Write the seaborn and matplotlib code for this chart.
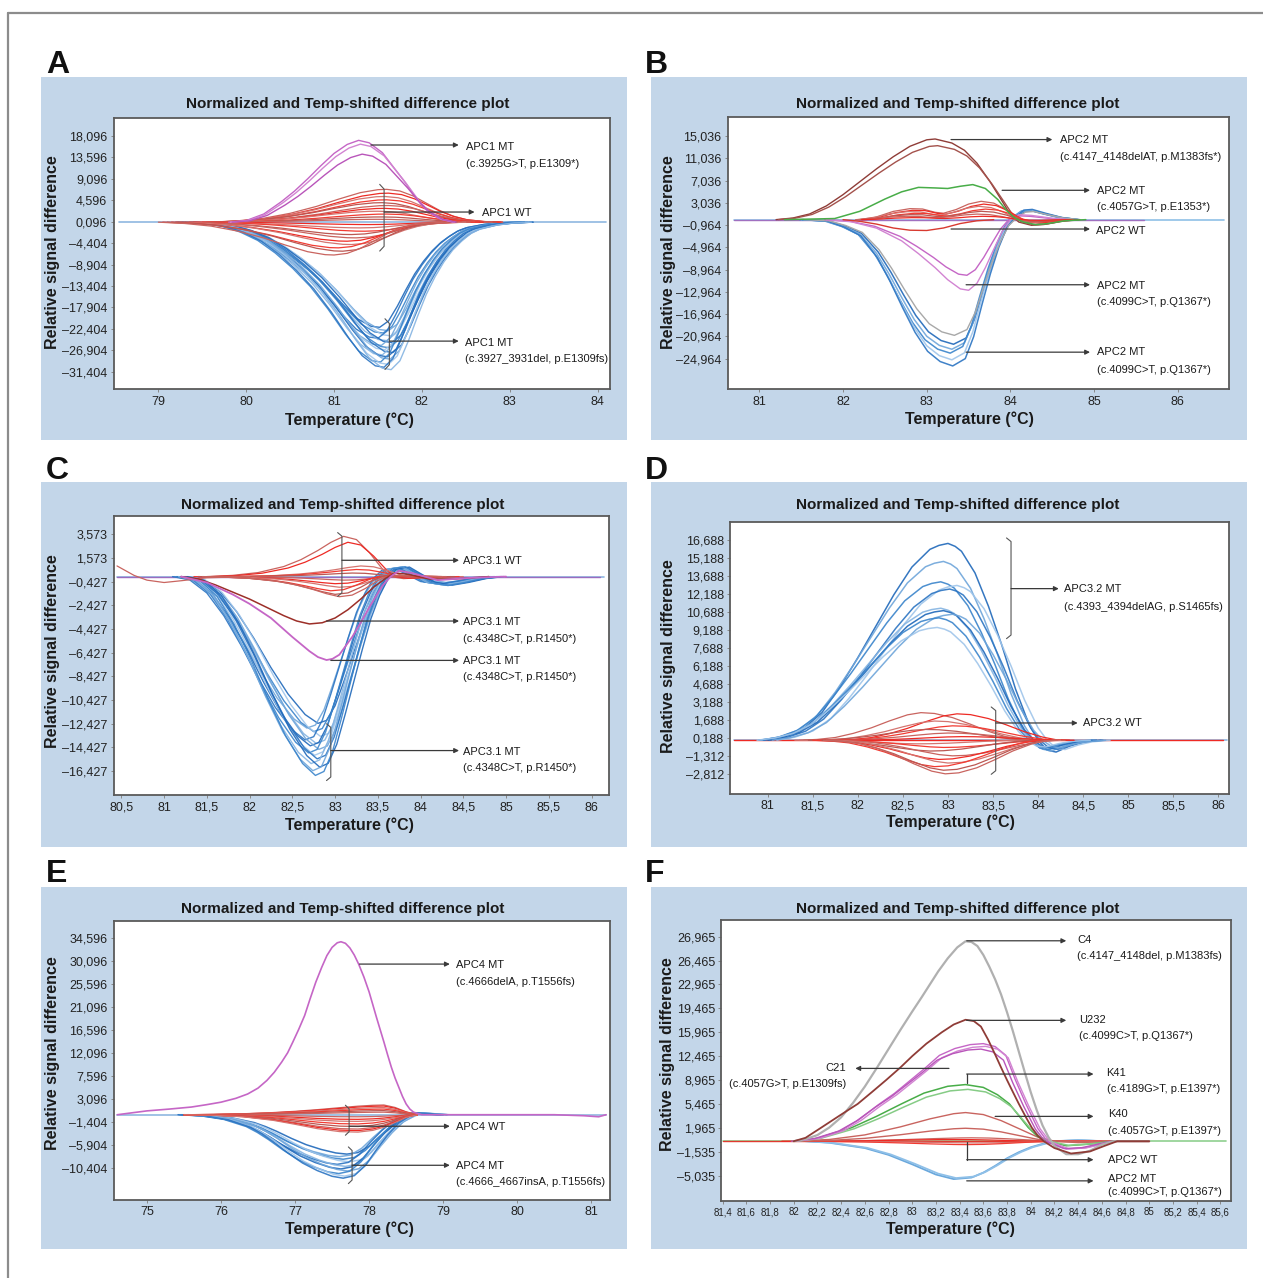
import numpy as np
import pandas as pd
import matplotlib
matplotlib.use("Agg")
import matplotlib.pyplot as plt
import seaborn as sns
from matplotlib.patches import Rectangle
from matplotlib.lines import Line2D

sns.set_theme(style="white")
plt.rcParams['font.family'] = ['Liberation Sans', 'DejaVu Sans']

# ======================= DATA =======================
TITLE = "Normalized and Temp-shifted difference plot"
YLABEL = "Relative signal difference"
XLABEL = "Temperature (°C)"

# ---------------- Panel A ----------------
A_xticks = [79, 80, 81, 82, 83, 84]
A_xticklabels = ["79", "80", "81", "82", "83", "84"]
A_yticks = [18096, 13596, 9096, 4596, 96, -4404, -8904, -13404, -17904, -22404, -26904, -31404]
A_yticklabels = ["18,096", "13,596", "9,096", "4,596", "0,096", "–4,404", "–8,904", "–13,404",
                 "–17,904", "–22,404", "–26,904", "–31,404"]
A_base_x = [78.55, 84.1]
A_blue_x = [79.3, 79.6, 79.8, 80.0, 80.2, 80.4, 80.6, 80.8, 81.0, 81.2, 81.35, 81.5, 81.6, 81.7,
            81.8, 81.9, 82.0, 82.1, 82.2, 82.3, 82.4, 82.5, 82.6, 82.8, 83.0, 83.2]
A_blue_shape = [0, -0.01, -0.03, -0.07, -0.13, -0.22, -0.33, -0.46, -0.62, -0.80, -0.92, -0.99, -1.0,
                -0.94, -0.80, -0.64, -0.49, -0.37, -0.27, -0.19, -0.13, -0.08, -0.05, -0.02, -0.005, 0]
A_blue_amp = [22100, 22800, 23300, 23900, 24400, 24900, 25300, 25900, 26400, 26800, 27400, 27900,
              28300, 28800, 29400, 29900, 30500, 31000]
A_blue_shift = [-0.08, 0.02, -0.04, 0.05, -0.10, 0.0, 0.06, -0.06, 0.03, -0.02, 0.07, -0.05, 0.01,
                0.04, -0.07, 0.02, -0.03, 0.05]
A_mag_x = [79.8, 80.0, 80.2, 80.4, 80.55, 80.7, 80.85, 81.0, 81.15, 81.28, 81.4, 81.55, 81.7, 81.8,
           81.95, 82.05, 82.2, 82.35]
A_mag_shape = [0, 0.02, 0.10, 0.25, 0.38, 0.53, 0.69, 0.84, 0.95, 1.0, 0.97, 0.85, 0.64, 0.50, 0.27,
               0.15, 0.04, 0]
A_mag_amp = [17200, 16400, 14300]
A_mag_shift = [0.0, 0.02, 0.04]
A_red_x = [79.5, 79.8, 80.1, 80.4, 80.7, 80.95, 81.2, 81.4, 81.5, 81.65, 81.8, 81.95, 82.1, 82.25,
           82.4, 82.6, 82.8]
A_red_shape = [0, 0.04, 0.12, 0.27, 0.48, 0.70, 0.90, 0.99, 1.0, 0.95, 0.80, 0.58, 0.36, 0.19, 0.08,
               0.02, 0]
A_red_amp = [6900, 6100, 5400, 4700, 4100, 3500, 2900, 2300, 1700, 1100, 600, -500, -1200, -1900,
             -2600, -3300, -4000, -4700, -5400, -6100, -6900]
A_red_shift = [0.1, 0.12, 0.08, 0.1, 0.05, 0.12, 0.08, 0.0, 0.1, 0.05, 0.0, -0.1, -0.2, -0.15, -0.3,
               -0.25, -0.35, -0.3, -0.45, -0.4, -0.5]

# ---------------- Panel B ----------------
B_xticks = [81, 82, 83, 84, 85, 86]
B_xticklabels = ["81", "82", "83", "84", "85", "86"]
B_yticks = [15036, 11036, 7036, 3036, -964, -4964, -8964, -12964, -16964, -20964, -24964]
B_yticklabels = ["15,036", "11,036", "7,036", "3,036", "–0,964", "–4,964", "–8,964", "–12,964",
                 "–16,964", "–20,964", "–24,964"]
B_base_x = [80.7, 86.55]
B_blue_x = [81.5, 81.8, 82.0, 82.2, 82.4, 82.55, 82.7, 82.85, 83.0, 83.15, 83.3, 83.45, 83.55, 83.65,
            83.75, 83.85, 83.95, 84.05, 84.15, 84.25, 84.4, 84.6, 84.8]
B_blue_shape = [0, -0.01, -0.05, -0.11, -0.26, -0.42, -0.60, -0.77, -0.90, -0.97, -1.0, -0.95, -0.80,
                -0.58, -0.37, -0.19, -0.05, 0.02, 0.065, 0.07, 0.045, 0.015, 0]
B_blue_amp = [22400, 23300, 24000, 25200, 26300]
B_blue_shift = [0.02, 0.0, -0.02, 0.0, 0.01]
B_gray_amp = [20800]
B_gray_shift = [0.03]
B_mag_x = [81.8, 82.1, 82.4, 82.7, 82.9, 83.1, 83.25, 83.4, 83.5, 83.6, 83.7, 83.8, 83.9, 84.0, 84.1,
           84.25, 84.5, 84.7]
B_mag_shape = [0, -0.03, -0.12, -0.30, -0.48, -0.68, -0.85, -0.98, -1.0, -0.90, -0.68, -0.42, -0.17,
               0, 0.07, 0.06, 0.02, 0]
B_mag_amp = [10000, 12700]
B_mag_shift = [-0.02, 0.0]
B_brown_x = [81.2, 81.4, 81.6, 81.8, 82.0, 82.2, 82.4, 82.6, 82.8, 83.0, 83.1, 83.3, 83.45, 83.6,
             83.75, 83.9, 84.0, 84.1, 84.25, 84.4, 84.6, 84.8]
B_brown_shape = [0, 0.02, 0.07, 0.17, 0.31, 0.47, 0.63, 0.78, 0.91, 0.99, 1.0, 0.95, 0.86, 0.70, 0.48,
                 0.23, 0.06, -0.03, -0.07, -0.06, -0.02, 0]
B_brown_amp = [14500, 13300]
B_brown_shift = [0.0, 0.03]
B_green_x = [81.3, 81.9, 82.2, 82.5, 82.7, 82.9, 83.1, 83.25, 83.4, 83.55, 83.7, 83.85, 83.95, 84.05,
             84.15, 84.3, 84.45, 84.65, 84.9]
B_green_y = [0, 200, 1500, 3700, 5000, 5800, 5700, 5600, 6000, 6300, 5600, 3600, 1700, 300, -400,
             -900, -700, -200, 0]
B_red_x = [82.2, 82.4, 82.6, 82.8, 82.95, 83.1, 83.2, 83.35, 83.5, 83.65, 83.8, 83.95, 84.1, 84.2,
           84.35, 84.5, 84.7]
B_red_shape = [0, 0.15, 0.45, 0.60, 0.58, 0.40, 0.35, 0.55, 0.85, 1.0, 0.90, 0.55, 0.05, -0.15, -0.20,
               -0.10, 0]
B_red_amp = [3300, 2800, 2400, 1900, 1500, 1000, 600]
B_red_shift = [0.0, 0.03, -0.03, 0.05, 0.0, -0.05, 0.02]
B_redneg_x = [82.0, 82.2, 82.4, 82.6, 82.8, 83.0, 83.2, 83.4, 83.6, 83.8]
B_redneg_y = [0, -300, -800, -1500, -1900, -1950, -1500, -700, -200, 0]

# ---------------- Panel C ----------------
C_xticks = [80.5, 81, 81.5, 82, 82.5, 83, 83.5, 84, 84.5, 85, 85.5, 86]
C_xticklabels = ["80,5", "81", "81,5", "82", "82,5", "83", "83,5", "84", "84,5", "85", "85,5", "86"]
C_yticks = [3573, 1573, -427, -2427, -4427, -6427, -8427, -10427, -12427, -14427, -16427]
C_yticklabels = ["3,573", "1,573", "–0,427", "–2,427", "–4,427", "–6,427", "–8,427", "–10,427",
                 "–12,427", "–14,427", "–16,427"]
C_base_x = [80.45, 86.15]
C_blue_x = [81.2, 81.4, 81.6, 81.8, 82.0, 82.2, 82.4, 82.6, 82.75, 82.85, 82.95, 83.05, 83.15, 83.25,
            83.35, 83.45, 83.55, 83.65, 83.8, 83.95, 84.1, 84.3, 84.5, 84.7, 84.9]
C_blue_shape = [0, -0.02, -0.10, -0.24, -0.42, -0.62, -0.80, -0.94, -1.0, -0.98, -0.88, -0.72, -0.55,
                -0.38, -0.22, -0.10, -0.01, 0.04, 0.05, 0.01, -0.03, -0.045, -0.03, -0.01, 0]
C_blue_amp = [12400, 12800, 13100, 13500, 13800, 14100, 14300, 14600, 14900, 15100, 15400, 15800,
              16100, 16400, 16800]
C_blue_shift = [0.05, -0.08, 0.0, 0.08, -0.1, 0.03, -0.04, 0.06, -0.06, 0.01, 0.04, -0.03, 0.07,
                -0.01, 0.02]
C_brown_x = [81.2, 81.4, 81.6, 81.8, 82.0, 82.2, 82.4, 82.55, 82.7, 82.85, 83.0, 83.15, 83.3, 83.45,
             83.6, 83.7, 83.85, 84.1, 84.4, 84.8]
C_brown_y = [0, -200, -700, -1300, -1900, -2600, -3300, -3750, -4000, -3900, -3500, -2800, -1900, -900,
             -100, 300, 200, -200, -200, 0]
C_mag_x = [81.2, 81.5, 81.8, 82.0, 82.25, 82.5, 82.7, 82.8, 82.9, 82.97, 83.05, 83.2, 83.3, 83.4,
           83.55, 83.65, 83.75, 83.9, 84.2, 84.6, 85.0]
C_mag_y = [0, -500, -1500, -2300, -3500, -5100, -6300, -6800, -7050, -6950, -6600, -5100, -3900, -2600,
           -800, 0, 500, 300, -300, -100, 0]
C_red_x = [81.5, 81.8, 82.1, 82.4, 82.6, 82.8, 82.95, 83.1, 83.25, 83.4, 83.55, 83.65, 83.8, 84.0, 84.3]
C_red_shape = [0, 0.03, 0.10, 0.25, 0.42, 0.65, 0.85, 1.0, 0.92, 0.60, 0.20, 0.0, -0.05, -0.03, 0]
C_red_amp = [3400, 2900, 900, 600, 300, -300, -600, -900, -1200, -1500, -1700]
C_red_shift = [0.0, 0.05, 0.2, 0.15, 0.1, 0.0, -0.1, -0.05, -0.15, -0.1, -0.05]
C_rededge_x = [80.45, 80.55, 80.65, 80.8, 81.0, 81.2, 81.5, 82.0]
C_rededge_y = [900, 500, 100, -300, -500, -350, -100, 0]

# ---------------- Panel D ----------------
D_xticks = [81, 81.5, 82, 82.5, 83, 83.5, 84, 84.5, 85, 85.5, 86]
D_xticklabels = ["81", "81,5", "82", "82,5", "83", "83,5", "84", "84,5", "85", "85,5", "86"]
D_yticks = [16688, 15188, 13688, 12188, 10688, 9188, 7688, 6188, 4688, 3188, 1688, 188, -1312, -2812]
D_yticklabels = ["16,688", "15,188", "13,688", "12,188", "10,688", "9,188", "7,688", "6,188",
                 "4,688", "3,188", "1,688", "0,188", "–1,312", "–2,812"]
D_base_x = [80.62, 86.1]
D_blue_x = [81.0, 81.2, 81.4, 81.6, 81.8, 82.0, 82.2, 82.4, 82.6, 82.8, 82.9, 83.0, 83.08, 83.15,
            83.3, 83.45, 83.6, 83.75, 83.9, 84.0, 84.1, 84.2, 84.35, 84.5, 84.7]
D_blue_shape = [0, 0.02, 0.06, 0.14, 0.27, 0.42, 0.58, 0.74, 0.88, 0.97, 0.99, 1.0, 0.985, 0.96, 0.85,
                0.68, 0.48, 0.26, 0.08, 0.0, -0.05, -0.06, -0.03, -0.01, 0]
D_blue_amp = [16400, 14900, 13200, 12900, 12600, 11000, 10800, 10500, 10200, 9400]
D_blue_shift = [0.0, -0.05, -0.08, 0.1, 0.02, -0.08, -0.05, 0.05, -0.1, -0.12]
D_red_x = [81.5, 81.7, 81.9, 82.1, 82.3, 82.5, 82.7, 82.85, 83.0, 83.2, 83.4, 83.6, 83.8, 83.95, 84.1]
D_red_shape = [0, 0.03, 0.10, 0.25, 0.45, 0.70, 0.92, 1.0, 0.97, 0.82, 0.58, 0.32, 0.12, 0.02, 0]
D_red_amp = [2300, 2200, 1600, 1200, 900, 600, 300, -300, -600, -900, -1300, -1600, -1900, -2200,
             -2500, -2800]
D_red_shift = [-0.15, 0.25, 0.0, 0.2, -0.1, 0.15, 0.3, -0.2, 0.1, -0.05, 0.2, 0.05, 0.15, 0.0, 0.1, 0.12]

# ---------------- Panel E ----------------
E_xticks = [75, 76, 77, 78, 79, 80, 81]
E_xticklabels = ["75", "76", "77", "78", "79", "80", "81"]
E_yticks = [34596, 30096, 25596, 21096, 16596, 12096, 7596, 3096, -1404, -5904, -10404]
E_yticklabels = ["34,596", "30,096", "25,596", "21,096", "16,596", "12,096", "7,596", "3,096",
                 "–1,404", "–5,904", "–10,404"]
E_base_x = [74.6, 81.2]
E_mag_x = [74.6, 75.0, 75.3, 75.6, 75.8, 76.0, 76.2, 76.36, 76.5, 76.62, 76.72, 76.82, 76.9, 76.97,
           77.05, 77.13, 77.2, 77.28, 77.36, 77.43, 77.5, 77.57, 77.62, 77.68, 77.74, 77.8, 77.86,
           77.93, 78.0, 78.05, 78.1, 78.15, 78.2, 78.25, 78.3, 78.35, 78.4, 78.45, 78.5, 78.55,
           78.6, 78.71, 80.5, 80.9, 81.1, 81.2]
E_mag_y = [0, 750, 1100, 1500, 1950, 2450, 3200, 4050, 5200, 6700, 8300, 10300, 12100, 14200,
           16700, 19400, 22500, 25900, 28800, 31100, 32700, 33600, 33800, 33500, 32600, 31200, 29400,
           26900, 24000, 21500, 19000, 16600, 14200, 11700, 9300, 7200, 5400, 3600, 2100, 1100,
           500, 0, 0, -200, -400, 0]
E_blue_x = [75.5, 75.8, 76.1, 76.4, 76.55, 76.7, 76.9, 77.1, 77.3, 77.5, 77.65, 77.8, 77.95, 78.1,
            78.25, 78.4, 78.55, 78.65, 78.8, 79.0]
E_blue_shape = [0, -0.02, -0.08, -0.20, -0.30, -0.42, -0.60, -0.76, -0.88, -0.97, -1.0, -0.96, -0.80,
                -0.55, -0.32, -0.13, -0.02, 0.03, 0.02, 0]
E_blue_amp = [7700, 8200, 8700, 9200, 9700, 10100, 10600, 11000, 11500, 12000, 12400]
E_blue_shift = [0.05, -0.05, 0.0, 0.08, -0.08, 0.03, -0.03, 0.06, -0.06, 0.02, 0.0]
E_red_x = [75.5, 75.9, 76.3, 76.7, 77.0, 77.3, 77.6, 77.85, 78.05, 78.2, 78.35, 78.5, 78.65]
E_redpos_shape = [0, 0.03, 0.10, 0.22, 0.35, 0.52, 0.72, 0.88, 0.97, 1.0, 0.75, 0.30, 0]
E_redneg_shape = [0, 0.03, 0.12, 0.32, 0.55, 0.80, 0.97, 1.0, 0.90, 0.72, 0.45, 0.15, 0]
E_redpos_amp = [1900, 1700, 1400, 1100, 800, 500]
E_redneg_amp = [-400, -900, -1300, -1800, -2300, -2800, -3100, -3400]

# ---------------- Panel F ----------------
F_xticks = [81.4, 81.6, 81.8, 82.0, 82.2, 82.4, 82.6, 82.8, 83.0, 83.2, 83.4, 83.6, 83.8, 84.0,
            84.2, 84.4, 84.6, 84.8, 85.0, 85.2, 85.4, 85.6]
F_xticklabels = ["81,4", "81,6", "81,8", "82", "82,2", "82,4", "82,6", "82,8", "83", "83,2", "83,4",
                 "83,6", "83,8", "84", "84,2", "84,4", "84,6", "84,8", "85", "85,2", "85,4", "85,6"]
F_yticks = [29965, 26465, 22965, 19465, 15965, 12465, 8965, 5465, 1965, -1535, -5035]
F_yticklabels = ["26,965", "26,465", "22,965", "19,465", "15,965", "12,465", "8,965", "5,465",
                 "1,965", "–1,535", "–5,035"]
F_base_x = [81.4, 85.65]
F_gray_x = [82.0, 82.1, 82.2, 82.3, 82.4, 82.5, 82.6, 82.7, 82.8, 82.9, 83.0, 83.08, 83.15, 83.22,
            83.3, 83.38, 83.45, 83.5, 83.55, 83.6, 83.65, 83.7, 83.75, 83.8, 83.85, 83.9, 83.95,
            84.0, 84.05, 84.1, 84.15, 84.2, 84.3, 84.4, 84.5, 84.6, 84.7, 85.0]
F_gray_y = [0, 300, 900, 2000, 3500, 5600, 8000, 10700, 13500, 16300, 19000, 21100, 23000, 24900,
            26800, 28400, 29300, 29200, 28600, 27300, 25600, 23700, 21500, 18900, 16100, 13100,
            10100, 7200, 4600, 2300, 600, -700, -1900, -1900, -1400, -500, 0, 0]
F_brown_x = [82.0, 82.1, 82.23, 82.4, 82.54, 82.66, 82.78, 82.9, 83.0, 83.12, 83.25, 83.35, 83.45,
             83.52, 83.58, 83.64, 83.7, 83.75, 83.8, 83.85, 83.9, 83.96, 84.01, 84.06, 84.11, 84.2,
             84.34, 84.5, 84.62, 84.73, 85.0]
F_brown_y = [0, 500, 1965, 3900, 5465, 7200, 8965, 10800, 12465, 14300, 15965, 17100, 17800, 17600,
             16800, 14900, 12700, 10800, 8965, 7200, 5465, 3500, 1965, 800, 0, -1000, -1800, -1500,
             -700, 0, 0]
F_mag_x = [82.0, 82.2, 82.4, 82.55, 82.71, 82.85, 82.97, 83.1, 83.23, 83.36, 83.49, 83.6, 83.7, 83.79,
           83.87, 83.96, 84.06, 84.14, 84.3, 84.45, 84.7]
F_mag_shape = [0, 0.03, 0.11, 0.22, 0.37, 0.49, 0.61, 0.74, 0.88, 0.95, 0.99, 1.0, 0.97, 0.88, 0.63,
               0.38, 0.13, 0, -0.08, -0.07, 0]
F_mag_amp = [14300, 13900, 13500]
F_mag_shift = [0.0, 0.02, -0.02]
F_green_x = [82.0, 82.2, 82.49, 82.7, 82.91, 83.1, 83.3, 83.45, 83.6, 83.72, 83.82, 83.9, 83.98,
             84.06, 84.14, 84.3, 84.5, 84.7]
F_green_shape = [0, 0.05, 0.24, 0.44, 0.66, 0.85, 0.97, 1.0, 0.95, 0.82, 0.66, 0.45, 0.24, 0.08, 0,
                 -0.08, -0.05, 0]
F_green_amp = [8300, 7600]
F_green_shift = [0.0, 0.02]
F_k40_x = [82.0, 82.3, 82.6, 82.9, 83.15, 83.35, 83.45, 83.6, 83.75, 83.9, 84.05, 84.2, 84.4, 84.7]
F_k40_shape = [0, 0.06, 0.22, 0.50, 0.78, 0.96, 1.0, 0.93, 0.72, 0.44, 0.16, 0, -0.05, 0]
F_k40_amp = [4200, 1900]
F_k40_shift = [0.0, 0.0]
F_wt_amp = [500, 250, -250, -500]
F_wt_shift = [0.05, -0.1, 0.1, 0.0]
F_blue_x = [82.1, 82.3, 82.6, 82.8, 83.0, 83.2, 83.35, 83.5, 83.6, 83.7, 83.8, 83.9, 84.0, 84.1,
            84.2, 84.4, 84.6]
F_blue_shape = [0, -0.04, -0.18, -0.36, -0.61, -0.88, -1.0, -0.96, -0.83, -0.65, -0.45, -0.29, -0.16,
                -0.07, 0, 0.03, 0]
F_blue_amp = [5550, 5400]
F_blue_shift = [0.0, 0.02]

# ======================= STYLE / LAYOUT =======================
W, H = 1263, 1278
PANEL_BG = "#c3d6e9"
BLUES = ["#1f68ba", "#6ea5da", "#3a84cb", "#9fc5ea", "#2b74c2", "#85b4e2"]
REDS = ["#c9645f", "#ee2a24", "#d47570", "#f23b32", "#bb5752"]
MAGS = ["#c566c6", "#d284d2", "#b955ba"]
BROWNS = ["#8f3c37", "#a4524c"]
GREENS = ["#48ad48", "#86cc86"]
GRAY = ["#a8a8a8"]
ANN = "#3a3a3a"

fig = plt.figure(figsize=(W / 100, H / 100), dpi=100)
fig.patch.set_facecolor("white")

# outer frame
fig.add_artist(Line2D([8 / W, 1.0], [1 - 13 / H, 1 - 13 / H], transform=fig.transFigure,
                      color="#8c8c8c", lw=1.6))
fig.add_artist(Line2D([8 / W, 8 / W], [1 - 13 / H, 0.0], transform=fig.transFigure,
                      color="#8c8c8c", lw=1.6))


def px_rect(l, t, r, b):
    return [l / W, 1 - b / H, (r - l) / W, (b - t) / H]


def panel_frame(letter, box, title_xy, xlabel_xy, ylabel_xy, letter_xy):
    l, t, r, b = box
    fig.add_artist(Rectangle((l / W, 1 - b / H), (r - l) / W, (b - t) / H,
                             transform=fig.transFigure, facecolor=PANEL_BG, edgecolor="none",
                             zorder=0))
    fig.text(letter_xy[0] / W, 1 - letter_xy[1] / H, letter, fontsize=23, fontweight="bold",
             ha="left", va="baseline", color="#111")
    fig.text(title_xy[0] / W, 1 - title_xy[1] / H, TITLE, fontsize=11, fontweight="bold",
             ha="center", va="center", color="#1a1a1a")
    fig.text(xlabel_xy[0] / W, 1 - xlabel_xy[1] / H, XLABEL, fontsize=11.5, fontweight="bold",
             ha="center", va="center", color="#1a1a1a")
    fig.text(ylabel_xy[0] / W, 1 - ylabel_xy[1] / H, YLABEL, fontsize=11.5, fontweight="bold",
             ha="center", va="center", rotation=90, color="#1a1a1a")


def make_axes(rect, xlim, ylim, xt, xtl, yt, ytl, xfs=9):
    ax = fig.add_axes(px_rect(*rect))
    ax.set_facecolor("white")
    ax.set_xlim(*xlim)
    ax.set_ylim(*ylim)
    ax.set_xticks(xt)
    ax.set_xticklabels(xtl, fontsize=xfs)
    ax.set_yticks(yt)
    ax.set_yticklabels(ytl, fontsize=9)
    ax.tick_params(axis="both", length=2.5, width=0.7, color="#888", pad=2, labelcolor="#222",
                   bottom=True, left=True)
    for s in ax.spines.values():
        s.set_color("#5a5a5a")
        s.set_linewidth(1.3)
        s.set_visible(True)
    ax.set_zorder(2)
    return ax


def draw_family(ax, x, shape, amps, shifts, colors, lw=0.9, alpha=1.0, z=2):
    rows = []
    for i, (a, s) in enumerate(zip(amps, shifts)):
        for xv, sv in zip(x, shape):
            rows.append((f"c{i}", xv + s, a * sv))
    df = pd.DataFrame(rows, columns=["cid", "x", "y"])
    pal = {f"c{i}": colors[i % len(colors)] for i in range(len(amps))}
    sns.lineplot(data=df, x="x", y="y", hue="cid", palette=pal, estimator=None, sort=False,
                 legend=False, lw=lw, alpha=alpha, ax=ax, zorder=z)


def draw_single(ax, x, y, color, lw=1.0, z=3):
    df = pd.DataFrame({"x": x, "y": y})
    sns.lineplot(data=df, x="x", y="y", estimator=None, sort=False, color=color, lw=lw, ax=ax,
                 zorder=z)


def baseline(ax, xs, color, lw=1.2):
    draw_single(ax, xs, [0] * len(xs), color, lw=lw, z=1.5)


def arrow(ax, x0, x1, y):
    ax.annotate("", xy=(x1, y), xytext=(x0, y), xycoords="data",
                arrowprops=dict(arrowstyle="-|>", color=ANN, lw=0.9, mutation_scale=7,
                                shrinkA=0, shrinkB=0), zorder=6)


def vline(ax, x, y0, y1):
    ax.plot([x, x], [y0, y1], color=ANN, lw=0.9, zorder=6)


def bracket(ax, x, ytop, ybot, dx, hook):
    ax.plot([x - dx, x, x, x - dx], [ytop, ytop - hook, ybot + hook, ybot], color="#555",
            lw=0.8, zorder=6)


def label(ax, x, y, txt, ha="left"):
    ax.text(x, y, txt, fontsize=8, ha=ha, va="center", color="#1a1a1a", zorder=7)


def finish(ax):
    ax.set_xlabel("")
    ax.set_ylabel("")


# ======================= PANEL A =======================
panel_frame("A", (41, 77, 627, 440), (348, 104), (349, 420), (53, 252), (46, 73))
ax = make_axes((113.6, 117.7, 609.8, 389.3), (78.49, 84.14), (-35130, 21960),
               A_xticks, A_xticklabels, A_yticks, A_yticklabels)
baseline(ax, A_base_x, "#8fb8e0")
draw_family(ax, A_blue_x, A_blue_shape, A_blue_amp, A_blue_shift, BLUES, lw=1.0, alpha=0.9)
draw_family(ax, A_red_x, A_red_shape, A_red_amp, A_red_shift, REDS, lw=0.9)
draw_family(ax, A_mag_x, A_mag_shape, A_mag_amp, A_mag_shift, MAGS, lw=1.0)
arrow(ax, 81.42, 82.42, 16220)
label(ax, 82.5, 15800, "APC1 MT")
label(ax, 82.5, 12150, "(c.3925G>T, p.E1309*)")
bracket(ax, 81.57, 7950, -6070, 0.05, 1000)
arrow(ax, 81.57, 82.6, 2130)
label(ax, 82.68, 1850, "APC1 WT")
bracket(ax, 81.63, -20300, -30960, 0.05, 1000)
arrow(ax, 81.63, 82.42, -25000)
label(ax, 82.49, -25300, "APC1 MT")
label(ax, 82.49, -28850, "(c.3927_3931del, p.E1309fs)")
finish(ax)

# ======================= PANEL B =======================
panel_frame("B", (651, 77, 1247, 440), (958, 104), (969, 419), (669, 252), (645, 73))
ax = make_axes((727.5, 117.3, 1229, 389.3), (80.62, 86.61), (-30500, 18400),
               B_xticks, B_xticklabels, B_yticks, B_yticklabels)
baseline(ax, B_base_x, "#8fc0e6")
baseline(ax, [80.7, 85.6], "#a070c0", lw=1.0)
draw_family(ax, B_blue_x, B_blue_shape, B_blue_amp, B_blue_shift, BLUES, lw=1.1, alpha=0.9)
draw_family(ax, B_blue_x, B_blue_shape, B_gray_amp, B_gray_shift, GRAY, lw=1.0)
draw_family(ax, B_mag_x, B_mag_shape, B_mag_amp, B_mag_shift, MAGS, lw=1.0)
draw_family(ax, B_brown_x, B_brown_shape, B_brown_amp, B_brown_shift, BROWNS, lw=1.0)
draw_single(ax, B_green_x, B_green_y, GREENS[0], lw=1.1)
draw_family(ax, B_red_x, B_red_shape, B_red_amp, B_red_shift, REDS, lw=0.9)
draw_single(ax, B_redneg_x, B_redneg_y, "#d83a30", lw=1.0)
arrow(ax, 83.29, 84.5, 14396)
label(ax, 84.59, 14396, "APC2 MT")
label(ax, 84.59, 11276, "(c.4147_4148delAT, p.M1383fs*)")
arrow(ax, 83.9, 84.95, 5276)
label(ax, 85.03, 5156, "APC2 MT")
label(ax, 85.03, 2276, "(c.4057G>T, p.E1353*)")
arrow(ax, 83.29, 84.95, -1684)
label(ax, 85.02, -2044, "APC2 WT")
arrow(ax, 83.47, 84.95, -11704)
label(ax, 85.03, -11884, "APC2 MT")
label(ax, 85.03, -14824, "(c.4099C>T, p.Q1367*)")
arrow(ax, 83.47, 84.95, -23824)
label(ax, 85.03, -23884, "APC2 MT")
label(ax, 85.03, -26944, "(c.4099C>T, p.Q1367*)")
finish(ax)

# ======================= PANEL C =======================
panel_frame("C", (41, 482, 627, 847), (343, 505), (349, 825), (53, 651), (46, 479))
ax = make_axes((113.6, 516, 608.7, 795.3), (80.41, 86.2), (-18480, 5120),
               C_xticks, C_xticklabels, C_yticks, C_yticklabels)
baseline(ax, C_base_x, "#8fb8e0")
baseline(ax, [80.45, 86.1], "#9a6cc0", lw=1.0)
draw_family(ax, C_blue_x, C_blue_shape, C_blue_amp, C_blue_shift, BLUES, lw=1.0, alpha=0.9)
draw_family(ax, C_red_x, C_red_shape, C_red_amp, C_red_shift, REDS, lw=0.9)
draw_single(ax, C_rededge_x, C_rededge_y, REDS[0], lw=0.9)
draw_single(ax, C_brown_x, C_brown_y, "#9c2f28", lw=1.1)
draw_single(ax, C_mag_x, C_mag_y, MAGS[0], lw=1.3)
bracket(ax, 83.08, 3718, -1668, 0.05, 300)
arrow(ax, 83.08, 84.45, 1378)
label(ax, 84.5, 1293, "APC3.1 WT")
arrow(ax, 82.9, 84.45, -3755)
label(ax, 84.5, -3840, "APC3.1 MT")
label(ax, 84.5, -5250, "(c.4348C>T, p.R1450*)")
arrow(ax, 82.95, 84.45, -7082)
label(ax, 84.5, -7110, "APC3.1 MT")
label(ax, 84.5, -8490, "(c.4348C>T, p.R1450*)")
bracket(ax, 82.95, -12440, -17234, 0.05, 300)
arrow(ax, 82.95, 84.45, -14700)
label(ax, 84.5, -14790, "APC3.1 MT")
label(ax, 84.5, -16170, "(c.4348C>T, p.R1450*)")
finish(ax)

# ======================= PANEL D =======================
panel_frame("D", (651, 482, 1247, 847), (958, 505), (950, 822), (669, 656), (645, 479))
ax = make_axes((730, 522.3, 1229, 794), (80.58, 86.12), (-4480, 18160),
               D_xticks, D_xticklabels, D_yticks, D_yticklabels)
baseline(ax, D_base_x, "#8fb8e0")
baseline(ax, [80.62, 86.05], "#ee2a24", lw=1.0)
draw_family(ax, D_blue_x, D_blue_shape, D_blue_amp, D_blue_shift, BLUES, lw=1.1, alpha=0.9)
draw_family(ax, D_red_x, D_red_shape, D_red_amp, D_red_shift, REDS, lw=0.9)
bracket(ax, 83.7, 16856, 8466, 0.05, 300)
arrow(ax, 83.7, 84.23, 12633)
label(ax, 84.29, 12577, "APC3.2 MT")
label(ax, 84.29, 11105, "(c.4393_4394delAG, p.S1465fs)")
bracket(ax, 83.53, 2772, -2840, 0.05, 300)
arrow(ax, 83.53, 84.44, 1438)
label(ax, 84.5, 1438, "APC3.2 WT")
finish(ax)

# ======================= PANEL E =======================
panel_frame("E", (41, 887, 627, 1249), (343, 909), (349, 1229), (53, 1053), (46, 882))
ax = make_axes((113.6, 921, 609.8, 1200), (74.55, 81.25), (-16665, 37856),
               E_xticks, E_xticklabels, E_yticks, E_yticklabels)
baseline(ax, E_base_x, "#8fb8e0")
draw_family(ax, E_blue_x, E_blue_shape, E_blue_amp, E_blue_shift, BLUES, lw=1.1, alpha=0.9)
draw_family(ax, E_red_x, E_redpos_shape, E_redpos_amp, [0] * len(E_redpos_amp), REDS, lw=0.9)
draw_family(ax, E_red_x, E_redneg_shape, E_redneg_amp, [0] * len(E_redneg_amp), REDS, lw=0.9)
draw_single(ax, E_mag_x, E_mag_y, MAGS[0], lw=1.2)
arrow(ax, 77.87, 79.09, 29436)
label(ax, 79.18, 29240, "APC4 MT")
label(ax, 79.18, 25980, "(c.4666delA, p.T1556fs)")
bracket(ax, 77.73, 1856, -4012, 0.05, 700)
arrow(ax, 77.73, 79.09, -2252)
label(ax, 79.18, -2380, "APC4 WT")
bracket(ax, 77.77, -6294, -13466, 0.05, 700)
arrow(ax, 77.77, 79.09, -9880)
label(ax, 79.18, -10010, "APC4 MT")
label(ax, 79.18, -13140, "(c.4666_4667insA, p.T1556fs)")
finish(ax)

# ======================= PANEL F =======================
panel_frame("F", (651, 887, 1247, 1249), (958, 909), (950, 1229), (668, 1054), (645, 882))
ax = make_axes((721.4, 920, 1231, 1201), (81.39, 85.69), (-8760, 32416),
               F_xticks, F_xticklabels, F_yticks, F_yticklabels, xfs=7)
baseline(ax, F_base_x, "#8fd08f")
baseline(ax, [81.4, 85.0], "#e03a30", lw=1.0)
draw_single(ax, F_gray_x, F_gray_y, "#b0b0b0", lw=1.6)
draw_family(ax, F_blue_x, F_blue_shape, F_blue_amp, F_blue_shift, ["#6aa8dc", "#8fc0e8"], lw=1.3)
draw_family(ax, F_k40_x, F_k40_shape, F_wt_amp, F_wt_shift, REDS, lw=0.9)
draw_family(ax, F_k40_x, F_k40_shape, F_k40_amp, F_k40_shift, ["#c9645f"], lw=1.0)
draw_family(ax, F_green_x, F_green_shape, F_green_amp, F_green_shift, GREENS, lw=1.1)
draw_family(ax, F_mag_x, F_mag_shape, F_mag_amp, F_mag_shift, MAGS, lw=1.0)
draw_single(ax, F_brown_x, F_brown_y, "#8f3c37", lw=1.3)
arrow(ax, 83.46, 84.3, 29370)
label(ax, 84.39, 29470, "C4")
label(ax, 84.39, 27160, "(c.4147_4148del, p.M1383fs)")
arrow(ax, 83.46, 84.3, 17710)
label(ax, 84.41, 17710, "U232")
label(ax, 84.41, 15350, "(c.4099C>T, p.Q1367*)")
arrow(ax, 83.31, 82.52, 10670)
label(ax, 82.44, 10770, "C21", ha="right")
label(ax, 82.44, 8360, "(c.4057G>T, p.E1309fs)", ha="right")
vline(ax, 83.46, 8460, 9840)
arrow(ax, 83.46, 84.53, 9840)
label(ax, 84.64, 10030, "K41")
label(ax, 84.64, 7720, "(c.4189G>T, p.E1397*)")
arrow(ax, 83.7, 84.53, 3638)
label(ax, 84.65, 3980, "K40")
label(ax, 84.65, 1570, "(c.4057G>T, p.E1397*)")
vline(ax, 83.46, -150, -2709)
arrow(ax, 83.46, 84.53, -2709)
label(ax, 84.65, -2709, "APC2 WT")
arrow(ax, 83.46, 84.53, -5809)
label(ax, 84.65, -5560, "APC2 MT")
label(ax, 84.65, -7430, "(c.4099C>T, p.Q1367*)")
finish(ax)

fig.savefig("out.png", dpi=100, facecolor="white")
